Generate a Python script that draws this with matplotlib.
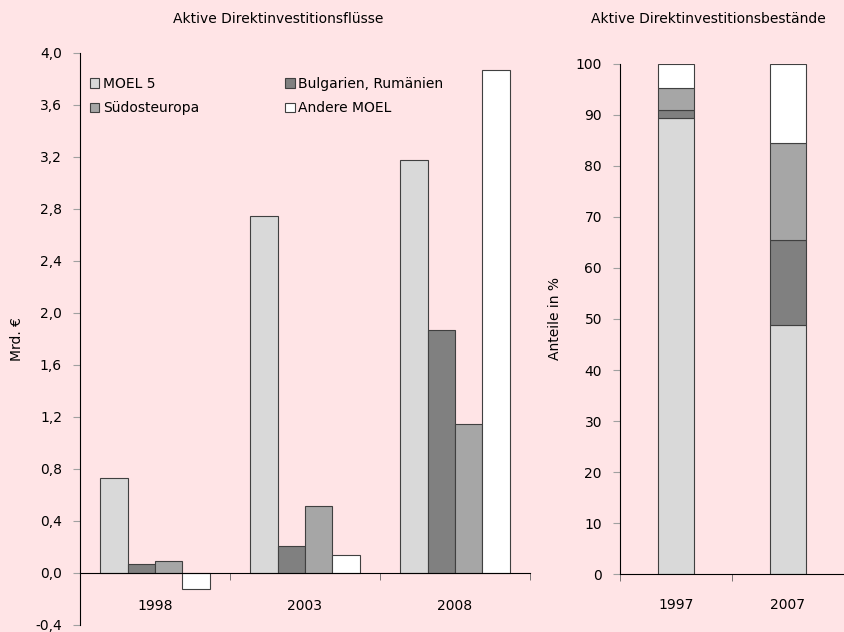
import numpy as np
import matplotlib
matplotlib.use("Agg")
import matplotlib.pyplot as plt
from matplotlib.ticker import FuncFormatter, FixedLocator

# Flows (Mrd. EUR)
flow_years = ["1998", "2003", "2008"]
flow_series = ["MOEL 5", "Bulgarien, Rumänien", "Südosteuropa", "Andere MOEL"]
moel5_flow = [0.73, 2.75, 3.18]
bgro_flow = [0.067, 0.21, 1.87]
soe_flow = [0.092, 0.515, 1.146]
other_flow = [-0.125, 0.136, 3.87]

# Stock shares (%)
stock_years = ["1997", "2007"]
moel5_share = [89.3, 48.8]
bgro_share = [1.6, 16.7]
soe_share = [4.4, 18.9]
other_share = [4.7, 15.6]

colors = ["#d9d9d9", "#808080", "#a6a6a6", "#ffffff"]
bg = "#ffe4e6"
edge = "#404040"

plt.rcParams["font.family"] = ["DejaVu Sans"]
plt.rcParams["font.size"] = 10

fig = plt.figure(figsize=(8.45, 6.32), dpi=100, facecolor=bg)

# ---- left: flows ----
ax1 = fig.add_axes([80 / 845, 7 / 632, 450 / 845, 572 / 632])
ax1.set_facecolor(bg)
x = np.arange(len(flow_years))
w = 0.1833
flows = [moel5_flow, bgro_flow, soe_flow, other_flow]
bars = []
for i, (vals, name) in enumerate(zip(flows, flow_series)):
    b = ax1.bar(x + (i - 1.5) * w, vals, w, color=colors[i], edgecolor=edge,
                linewidth=0.8, label=name)
    bars.append(b)
ax1.set_xlim(-0.5, 2.5)
ax1.set_ylim(-0.4, 4.0)
ax1.set_yticks(np.arange(-0.4, 4.01, 0.4))
ax1.yaxis.set_major_formatter(FuncFormatter(lambda v, p: f"{v:.1f}".replace(".", ",").replace("-0,0", "0,0")))
ax1.spines["bottom"].set_position(("data", 0))
ax1.spines["top"].set_visible(False)
ax1.spines["right"].set_visible(False)
ax1.set_xticks(x)
ax1.set_xticklabels(flow_years)
ax1.tick_params(axis="x", which="major", length=0, pad=19)
ax1.xaxis.set_minor_locator(FixedLocator([-0.5, 0.5, 1.5, 2.5]))
ax1.tick_params(axis="x", which="minor", length=5, direction="out", color="#606060")
ax1.tick_params(axis="y", length=5, color="#a0a0a0", pad=8)
ax1.set_ylabel("Mrd. €", labelpad=8)
# row-wise order: MOEL 5 | Bulgarien ; Suedosteuropa | Andere
order = [0, 2, 1, 3]
ax1.legend([bars[k] for k in order], [flow_series[k] for k in order],
           loc="upper left", ncol=2, frameon=False, bbox_to_anchor=(0.0, 0.975),
           handlelength=0.7, handleheight=0.7, handletextpad=0.25,
           columnspacing=6.2, labelspacing=0.75, fontsize=10, borderaxespad=0.3)

# ---- right: stock shares ----
ax2 = fig.add_axes([620 / 845, 57.7 / 632, 224 / 845, 510.6 / 632])
ax2.set_facecolor(bg)
xs = np.arange(len(stock_years))
shares = [moel5_share, bgro_share, soe_share, other_share]
bottom = np.zeros(len(stock_years))
for i, vals in enumerate(shares):
    ax2.bar(xs, vals, 0.33, bottom=bottom, color=colors[i], edgecolor=edge,
            linewidth=0.8)
    bottom += np.array(vals)
ax2.set_xlim(-0.5, 1.5)
ax2.set_ylim(0, 100)
ax2.set_yticks(np.arange(0, 101, 10))
ax2.spines["top"].set_visible(False)
ax2.spines["right"].set_visible(False)
ax2.set_xticks(xs)
ax2.set_xticklabels(stock_years)
ax2.tick_params(axis="x", which="major", length=0, pad=17)
ax2.xaxis.set_minor_locator(FixedLocator([-0.5, 0.5, 1.5]))
ax2.tick_params(axis="x", which="minor", length=5, direction="out", color="#606060")
ax2.tick_params(axis="y", length=5, color="#a0a0a0", pad=8)
ax2.set_ylabel("Anteile in %", labelpad=10)

fig.text(278 / 845, 1 - 19 / 632, "Aktive Direktinvestitionsflüsse", ha="center", va="center", fontsize=10)
fig.text(708 / 845, 1 - 19 / 632, "Aktive Direktinvestitionsbestände", ha="center", va="center", fontsize=10)

fig.savefig("out.png", dpi=100, facecolor=bg)
